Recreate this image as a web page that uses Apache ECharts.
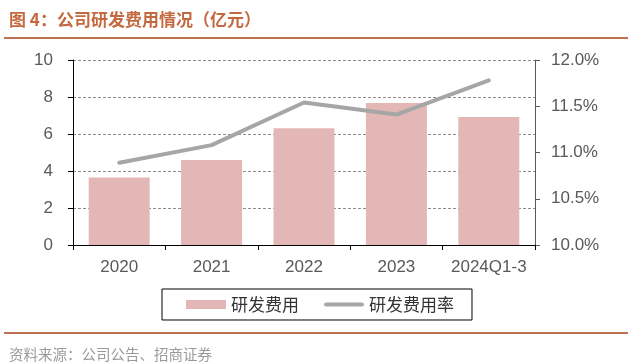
<!DOCTYPE html>
<html><head><meta charset="utf-8">
<script src="https://cdn.jsdelivr.net/npm/echarts@6/dist/echarts.min.js"></script>
<style>html,body{margin:0;padding:0;background:#fff}#c{width:633px;height:364px}</style>
</head><body><div id="c"></div>
<script>
const categories = ['2020', '2021', '2022', '2023', '2024Q1-3'];
const rdExpense = [3.65, 4.59, 6.31, 7.68, 6.92];
const rdRatio = [10.89, 11.08, 11.54, 11.41, 11.78];
const leftTicks = { min: 0, max: 10, interval: 2 };
const rightTicks = { min: 10, max: 12, interval: 0.5 };

const chart = echarts.init(document.getElementById('c'), null, { renderer: 'canvas' });
const axisFont = { fontFamily: 'Liberation Sans, Arial, sans-serif', fontSize: 17, color: '#595959' };
chart.setOption({
  animation: false,
  title: [
    { text: '图 4：公司研发费用情况（亿元）', left: 4, top: 6,
      textStyle: { fontFamily: 'Noto Sans CJK SC', fontSize: 17, fontWeight: 'bold', color: '#C4693F' } },
    { text: '资料来源：公司公告、招商证券', left: 4, top: 342,
      textStyle: { fontFamily: 'Noto Sans CJK SC', fontSize: 14.5, fontWeight: 'normal', color: '#9a9a9a' } }
  ],
  graphic: [
    { type: 'rect', shape: { x: 4, y: 37, width: 624, height: 2 }, style: { fill: '#C0714F' } },
    { type: 'rect', shape: { x: 4, y: 332, width: 624, height: 2 }, style: { fill: '#C0714F' } }
  ],
  grid: { left: 73, right: 98, top: 60, bottom: 119 },
  legend: {
    left: 162, top: 289,
    padding: [7, 18, 7, 24],
    itemGap: 25, itemWidth: 40, itemHeight: 9,
    borderColor: '#000', borderWidth: 1,
    textStyle: { fontFamily: 'Noto Sans CJK SC', fontSize: 17, color: '#333' },
    data: [
      { name: '研发费用', icon: 'rect' },
      { name: '研发费用率', icon: 'path://M2,0 L38,0 A2,2 0 0 1 38,4 L2,4 A2,2 0 0 1 2,0 Z M0,-2.5 L0.01,-2.5 M0,6.5 L0.01,6.5' }
    ]
  },
  xAxis: {
    type: 'category', data: categories,
    axisLine: { lineStyle: { color: '#000', width: 1 } },
    axisTick: { show: true, inside: false, length: 5, lineStyle: { color: '#000' } },
    axisLabel: Object.assign({ margin: 14, interval: 0 }, axisFont)
  },
  yAxis: [
    { type: 'value', min: leftTicks.min, max: leftTicks.max, interval: leftTicks.interval,
      axisLine: { show: true, lineStyle: { color: '#000' } },
      axisTick: { show: true, length: 5, lineStyle: { color: '#000' } },
      axisLabel: Object.assign({ margin: 20 }, axisFont),
      splitLine: { show: true, lineStyle: { color: '#8c8c8c', type: [3, 2], width: 1 } } },
    { type: 'value', min: rightTicks.min, max: rightTicks.max, interval: rightTicks.interval,
      position: 'right',
      axisLine: { show: true, lineStyle: { color: '#595959' } },
      axisTick: { show: true, length: 5, lineStyle: { color: '#595959' } },
      axisLabel: Object.assign({ margin: 16, formatter: v => v.toFixed(1) + '%' }, axisFont),
      splitLine: { show: false } }
  ],
  series: [
    { name: '研发费用', type: 'bar', data: rdExpense, yAxisIndex: 0,
      barCategoryGap: '34%', itemStyle: { color: '#E3B7B6' } },
    { name: '研发费用率', type: 'line', data: rdRatio, yAxisIndex: 1,
      symbol: 'none', lineStyle: { color: '#A6A6A6', width: 4, cap: 'round', join: 'round' }, itemStyle: { color: '#A6A6A6' } }
  ]
});
</script></body></html>
